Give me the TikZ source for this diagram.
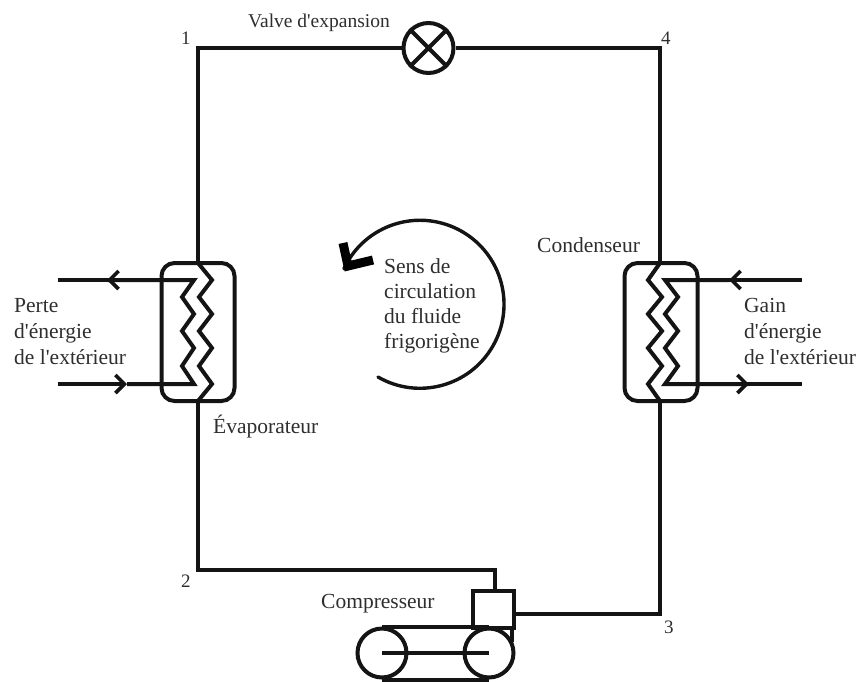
\documentclass[tikz,border=0pt]{standalone}
\usepackage{fontspec}
\setmainfont[Ligatures=TeXOff]{Liberation Serif}
\usetikzlibrary{arrows.meta}
\tikzset{
  pipe/.style={line width=4pt,draw=black!92,line join=miter},
  flowtip/.style={-{Straight Barb[length=9pt,width=18pt,line width=3.6pt]}},
  lbl/.style={anchor=base west,inner sep=0pt,text=black!82,font=\fontsize{21.5}{25}\selectfont},
  exch/.style={draw=black!92,line width=4pt,rounded corners=13pt,inner sep=0pt,minimum width=73pt,minimum height=138pt},
  wheel/.style={circle,draw=black!92,line width=4pt,inner sep=0pt,minimum size=49pt}
}
\begin{document}
\begin{tikzpicture}[x=1pt,y=-1pt]
\useasboundingbox (0,0) rectangle (860,681);
% equipment
\node[circle,draw=black!92,line width=4pt,inner sep=0pt,minimum size=50pt] (valve) at (428.5,48) {};
\node[exch] (evap) at (198,332) {};
\node[exch] (cond) at (661,332) {};
\node[wheel] (wl) at (382,653) {};
\node[wheel] (wr) at (489,653) {};
\node[draw=black!92,line width=4pt,inner sep=0pt,minimum width=41pt,minimum height=37pt] (comp) at (493,609.5) {};
% corners
\coordinate (c1) at (198,48);
\coordinate (c4) at (660,48);
\coordinate (c2) at (198,570);
\coordinate (c2b) at (495,570);
\coordinate (c3) at (660,614);
% valve cross
\draw[pipe] (valve.45) -- (valve.225) (valve.135) -- (valve.315);
% main loop
\draw[pipe] (evap.north) -- (c1) -- (valve.west);
\draw[pipe] (valve.east) -- (c4) -- (660,263);
\draw[pipe] (198,401) -- (c2) -- (c2b) -- (495,591);
\draw[pipe] (comp.east |- c3) -- (c3) -- (660,401);
% evaporator coils
\draw[pipe] (198,263) -- (212,280) -- (199,297) -- (212,314) -- (199,331) -- (212,348) -- (199,366) -- (212,384) -- (198,401);
\coordinate (eo1) at (58,280);
\coordinate (ea1) at (107,280);
\coordinate (eo2) at (58,384);
\coordinate (ea2) at (127,384);
\draw[pipe] (ea1) -- (194,280) -- (182,297) -- (194,314) -- (182,331) -- (194,348) -- (182,366) -- (194,384) -- (ea2);
\draw[pipe] (ea1) -- (eo1);
\draw[pipe,flowtip] (117,280) -- (ea1);
\draw[pipe,flowtip] (eo2) -- (ea2);
% condenser coils
\draw[pipe] (660,263) -- (648,280) -- (662,297) -- (648,314) -- (662,331) -- (648,348) -- (662,366) -- (648,384) -- (660,401);
\coordinate (co1) at (802,280);
\coordinate (ca1) at (729,280);
\coordinate (co2) at (802,384);
\coordinate (ca2) at (749,384);
\draw[pipe] (ca1) -- (665,280) -- (678,297) -- (665,314) -- (678,331) -- (665,348) -- (678,366) -- (665,384) -- (ca2);
\draw[pipe] (ca2) -- (co2);
\draw[pipe] (co1) -- (ca1);
\draw[pipe,flowtip] (739,280) -- (ca1);
\draw[pipe,flowtip] (730,384) -- (ca2);
% compressor belt and shaft
\draw[pipe] (wl.north) -- (wr.north);
\draw[pipe] (wl.south) -- (wr.south);
\draw[pipe] (wl.center) -- (wr.center);
\coordinate (cs) at (512,626);
\coordinate (ce) at (512,642);
\draw[pipe] (cs) -- (ce);
% circular arrow
\coordinate (rs) at (378,377);
\draw[line width=3.4pt,draw=black!92,line cap=round] (rs) arc[start angle=-120,end angle=155,radius=84pt];
\draw[line width=9pt,draw=black,line join=miter] (343,243) -- (348,266) -- (373,260);
% labels
\node[lbl,font=\fontsize{19.5}{24}\selectfont] (t1) at (248,27) {Valve d'expansion};
\node[lbl] (n1) at (181,44) {\fontsize{19}{24}\selectfont 1};
\node[lbl] (n4) at (661,44) {\fontsize{19}{24}\selectfont 4};
\node[lbl] (n2) at (181,587) {\fontsize{19}{24}\selectfont 2};
\node[lbl] (n3) at (664,633) {\fontsize{19}{24}\selectfont 3};
\node[lbl] (t2) at (537,252) {Condenseur};
\node[lbl] (t3) at (213,433) {Évaporateur};
\node[lbl] (t4) at (321,608) {Compresseur};
\node[lbl] (p1) at (14,312) {Perte};
\node[lbl] (p2) at (14,338) {d'énergie};
\node[lbl] (p3) at (14,364) {de l'extérieur};
\node[lbl] (g1) at (744,312) {Gain};
\node[lbl] (g2) at (744,338) {d'énergie};
\node[lbl] (g3) at (744,364) {de l'extérieur};
\node[lbl] (s1) at (384,273) {Sens de};
\node[lbl] (s2) at (384,298) {circulation};
\node[lbl] (s3) at (384,323) {du fluide};
\node[lbl] (s4) at (384,348) {frigorigène};
\end{tikzpicture}
\end{document}
